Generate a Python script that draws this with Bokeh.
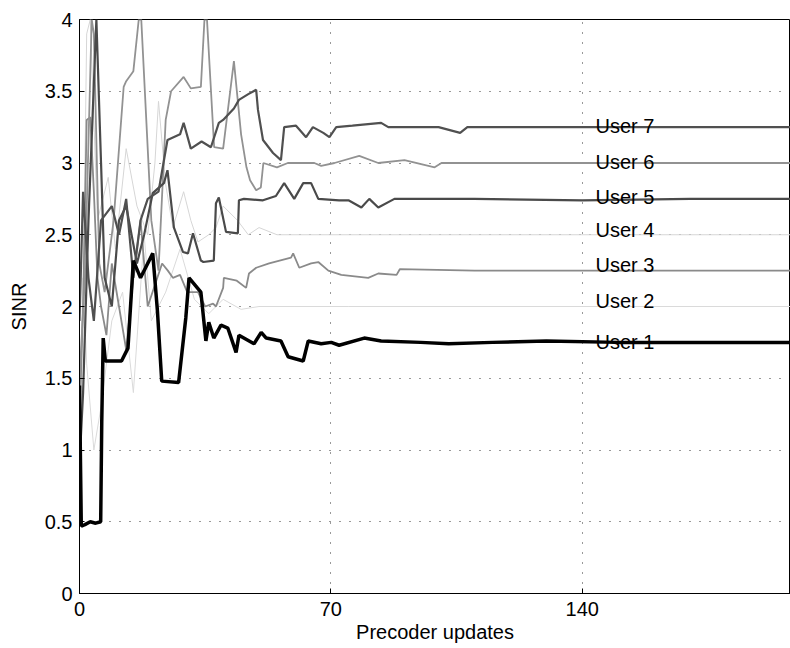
from bokeh.plotting import figure
from bokeh.models import Range1d, FixedTicker
from bokeh.core.properties import value
from bokeh.embed import file_html
from bokeh.resources import INLINE

# ---------------- data ----------------
x_ticks = [0, 70, 140]
y_ticks = [0, 0.5, 1, 1.5, 2, 2.5, 3, 3.5, 4]
y_tick_labels = ["0", "0.5", "1", "1.5", "2", "2.5", "3", "3.5", "4"]

u1_x = [0, 0.5, 1.5, 3, 4.5, 5.9, 6.2, 6.6, 7.2, 11.7, 13.5, 15, 17, 20.4, 21.7, 22.9,
        27.6, 29.6, 30.5, 33.8, 35.2, 36, 37.4, 39.4, 41.3, 43.6, 44.4, 48.6, 50.6, 52,
        56.1, 58.1, 62.3, 63.7, 67.3, 70.1, 72.3, 79.3, 84, 95, 102.8, 115, 130, 150, 170, 198]
u1_y = [1.45, 0.47, 0.48, 0.5, 0.49, 0.5, 1.2, 1.78, 1.62, 1.62, 1.71, 2.32, 2.2, 2.37, 1.97, 1.48,
        1.47, 1.92, 2.2, 2.1, 1.76, 1.89, 1.78, 1.87, 1.85, 1.68, 1.8, 1.74, 1.82, 1.78,
        1.76, 1.65, 1.62, 1.76, 1.74, 1.75, 1.73, 1.78, 1.76, 1.75, 1.74, 1.75, 1.76, 1.75, 1.75, 1.75]

u2_x = [0, 1, 2, 4, 6, 9, 12, 15, 18, 20, 24, 28, 32, 36, 40, 45, 50, 60, 75, 198]
u2_y = [1.3, 2.2, 1.6, 1.0, 1.3, 1.9, 2.1, 1.4, 2.5, 1.9, 2.1, 2.4, 2.05, 1.95, 2.05, 1.98, 2.0, 2.0, 2.0, 2.0]

u3_x = [0, 1, 2, 3, 4, 5, 6, 7.5, 9, 11, 13, 15, 17, 19, 21, 23, 24.6, 26, 28, 30, 33, 35,
        37.2, 38, 40, 40.2, 43.8, 46.4, 47.2, 49.2, 52.8, 58.9, 59.5, 61.2, 64.5, 66.5,
        69.3, 72.9, 80.4, 83.2, 88.3, 89.2, 110, 140, 170, 198]
u3_y = [1.2, 2.0, 3.3, 3.32, 2.8, 2.2, 2.0, 1.8, 2.3, 2.0, 1.7, 2.2, 2.6, 2.0, 2.15, 2.3,
        2.25, 2.2, 2.22, 2.1, 2.1, 2.0, 2.02, 2.0, 2.13, 2.2, 2.18, 2.13, 2.23, 2.27, 2.3,
        2.34, 2.37, 2.27, 2.3, 2.31, 2.25, 2.22, 2.2, 2.23, 2.22, 2.26, 2.25, 2.25, 2.25, 2.25]

u4_x = [0, 1, 2, 3, 5, 8, 10, 13, 16, 19, 21, 22, 24, 26, 29, 31, 33, 36, 38, 40, 44, 47,
        50, 55, 60, 70, 198]
u4_y = [1.0, 2.0, 3.9, 4.0, 2.6, 2.9, 2.4, 3.1, 2.7, 2.5, 3.0, 3.43, 2.85, 2.55, 2.8, 2.6,
        2.45, 2.5, 2.55, 2.7, 2.6, 2.5, 2.55, 2.5, 2.5, 2.5, 2.5]

u5_x = [0, 1, 2.5, 4.7, 6, 7, 9, 11, 13, 16, 18, 20.4, 23.5, 24.5, 26.3, 28.8, 30.2, 31.6,
        33.8, 34.5, 37.4, 38, 38.8, 40.8, 44.1, 44.4, 45.8, 51.1, 54.7, 57, 59.8, 62.3,
        64.5, 66.5, 72.3, 74.9, 78.5, 80.7, 83.2, 87.7, 110, 140, 170, 198]
u5_y = [0.9, 1.4, 2.6, 4.0, 3.0, 2.2, 2.0, 2.6, 2.7, 2.3, 2.5, 2.79, 2.86, 2.95, 2.55, 2.38,
        2.37, 2.51, 2.32, 2.31, 2.32, 2.72, 2.76, 2.52, 2.51, 2.74, 2.75, 2.74, 2.77, 2.86,
        2.75, 2.86, 2.86, 2.75, 2.74, 2.74, 2.69, 2.75, 2.69, 2.75, 2.75, 2.74, 2.75, 2.75]

u6_x = [0, 1.5, 3.4, 4.0, 5.5, 7, 9.5, 12.3, 13, 15, 16.5, 17.2, 19.4, 20, 22, 24, 25.5,
        29, 31, 33.8, 34.8, 35.5, 37.5, 40, 43, 45, 46.5, 47.5, 49.2, 50.5, 51.2, 55, 58,
        65.4, 67.3, 71, 77.9, 83.2, 90.5, 98.9, 100.8, 130, 198]
u6_y = [1.5, 2.2, 4.0, 3.9, 2.3, 2.1, 2.6, 3.53, 3.57, 3.64, 4.0, 4.0, 2.9, 2.6, 2.25, 3.3,
        3.5, 3.6, 3.52, 3.53, 4.0, 4.0, 3.11, 3.1, 3.71, 3.2, 2.97, 2.88, 2.81, 2.83, 3.0,
        2.97, 3.0, 3.0, 2.98, 3.0, 3.05, 3.0, 3.02, 2.97, 3.0, 3.0, 3.0]

u7_x = [0, 1, 2.5, 4, 6, 9, 11, 13, 15, 17, 19, 22, 24.5, 28, 29, 31, 34, 36.6, 38.8, 40,
        43, 44.4, 47, 49.2, 49.7, 51.1, 53.9, 56.1, 57, 60.3, 63.1, 65, 67.9, 69.6, 71.5,
        76, 84, 86, 100, 106, 108, 120, 150, 198]
u7_y = [1.9, 2.8, 2.2, 1.9, 2.6, 2.7, 2.5, 2.75, 2.2, 2.6, 2.75, 2.8, 3.16, 3.2, 3.28, 3.1,
        3.15, 3.11, 3.28, 3.3, 3.38, 3.44, 3.48, 3.51, 3.37, 3.16, 3.07, 3.02, 3.25, 3.26,
        3.18, 3.25, 3.21, 3.18, 3.25, 3.26, 3.28, 3.25, 3.25, 3.21, 3.25, 3.25, 3.25, 3.25]

label_names = ["User 7", "User 6", "User 5", "User 4", "User 3", "User 2", "User 1"]
label_x = [143.7] * 7
label_y = [3.26, 3.01, 2.76, 2.53, 2.29, 2.04, 1.75]

# ---------------- figure ----------------
FONT = "Liberation Sans"
p = figure(width=790, height=648, output_backend="svg", toolbar_location=None,
           x_range=Range1d(0, 198), y_range=Range1d(0, 4))
p.min_border_left = 79
p.min_border_right = 0
p.min_border_top = 19
p.min_border_bottom = 55
p.background_fill_color = "white"
p.border_fill_color = "white"
p.outline_line_color = "black"
p.outline_line_width = 1

p.xaxis.ticker = FixedTicker(ticks=x_ticks)
p.yaxis.ticker = FixedTicker(ticks=y_ticks)
p.yaxis.major_label_overrides = {t: s for t, s in zip(y_ticks, y_tick_labels)}
for ax in (p.xaxis[0], p.yaxis[0]):
    ax.major_tick_in = 5
    ax.major_tick_out = 0
    ax.minor_tick_in = 0
    ax.minor_tick_out = 0
    ax.axis_line_color = "black"
    ax.major_tick_line_color = "black"
    ax.major_label_text_font = FONT
    ax.major_label_text_font_size = "20px"
    ax.major_label_text_color = "black"
    ax.axis_label_text_font = FONT
    ax.axis_label_text_font_size = "20px"
    ax.axis_label_text_font_style = "normal"
    ax.axis_label_text_color = "black"
p.xaxis.axis_label = "Precoder updates"
p.yaxis.axis_label = "SINR"
p.xaxis.major_label_standoff = 8
p.xaxis.axis_label_standoff = 2
p.yaxis.major_label_standoff = 7
p.yaxis.axis_label_standoff = 12

p.xgrid.grid_line_color = "black"
p.ygrid.grid_line_color = "black"
p.xgrid.grid_line_dash = "1 9"
p.ygrid.grid_line_dash = "1 9"
p.xgrid.grid_line_alpha = 0.8
p.ygrid.grid_line_alpha = 0.8

series = [
    (u2_x, u2_y, "#dadada", 1.0),
    (u4_x, u4_y, "#d6d6d6", 1.0),
    (u3_x, u3_y, "#8a8a8a", 1.8),
    (u6_x, u6_y, "#929292", 1.8),
    (u5_x, u5_y, "#4a4a4a", 2.2),
    (u7_x, u7_y, "#505050", 2.2),
    (u1_x, u1_y, "#000000", 3.5),
]
for xs, ys, col, w in series:
    p.line(xs, ys, line_color=col, line_width=w)

p.text(x=label_x, y=label_y, text=label_names, text_font=value(FONT),
       text_font_size="20px", text_color="black", text_baseline="alphabetic",
       text_align="left")

open("out.html", "w").write(file_html(p, INLINE))
